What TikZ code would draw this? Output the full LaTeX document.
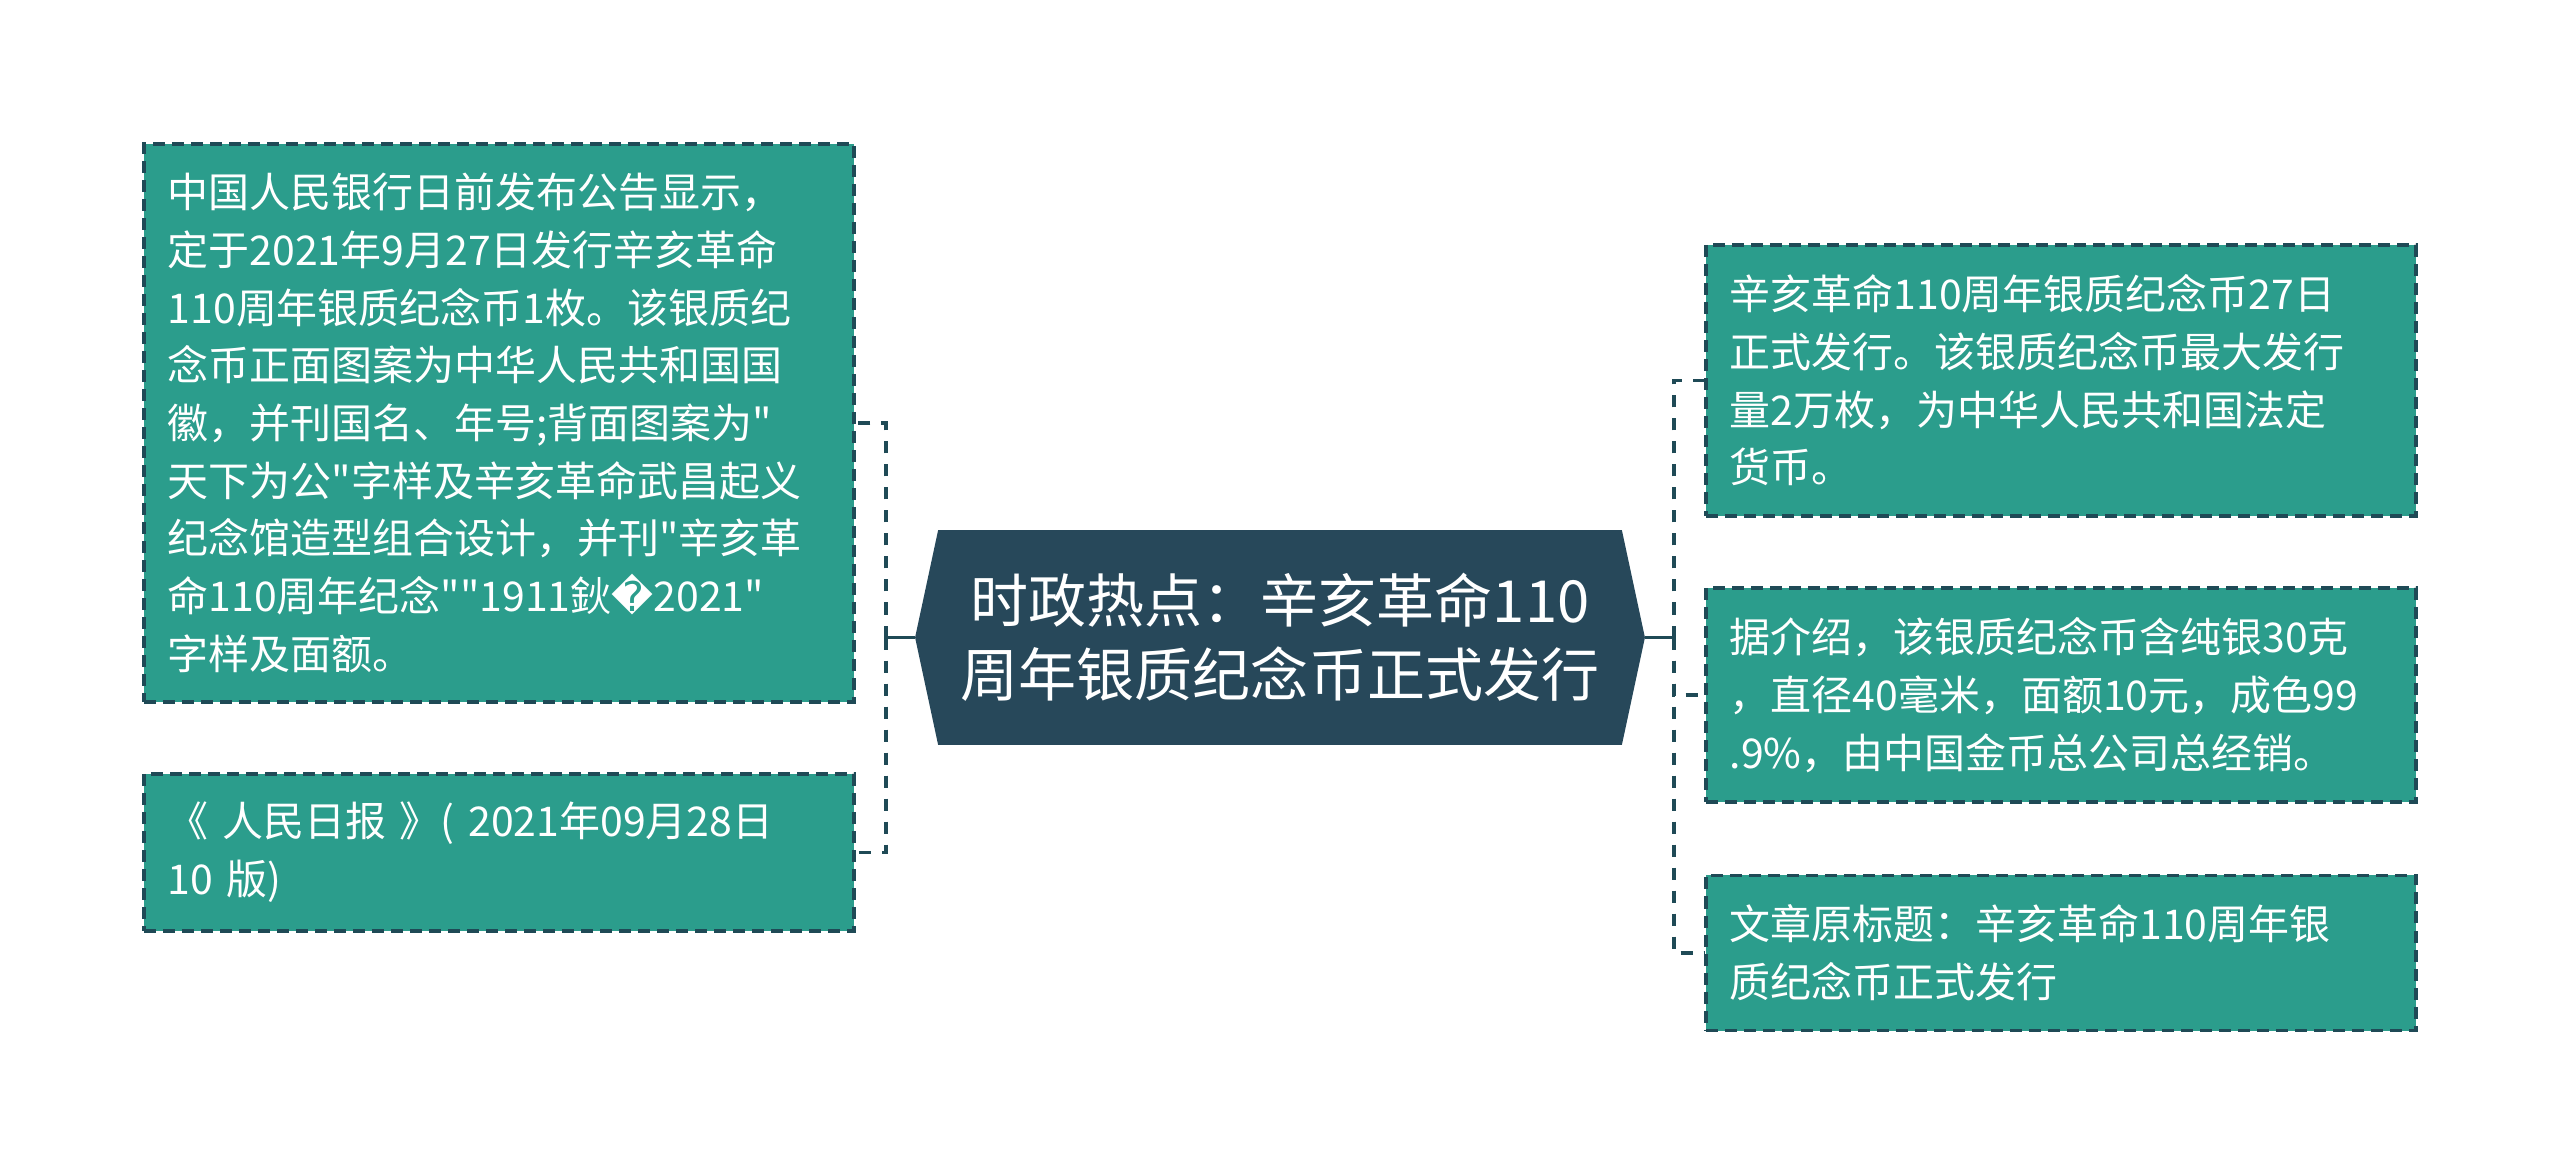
\documentclass[tikz,border=0pt]{standalone}
\usepackage{fontspec}
\setmainfont[Ligatures=TeXOff]{Noto Sans CJK SC}
\newfontfamily\symfont{DejaVu Sans}
\usetikzlibrary{backgrounds}
\definecolor{leaffill}{HTML}{2B9D8C}
\definecolor{edgeline}{HTML}{1F4A56}
\definecolor{rootfill}{HTML}{27485A}
\tikzset{leaf/.style={draw=edgeline, line width=1pt, dash pattern=on 0.12cm off 0.07cm, fill=leaffill, text=white,
    text width=6.62cm, inner xsep=0.24cm, inner ysep=0pt, align=left, minimum height=#1,
    font=\fontsize{11.65pt}{16.4pt}\selectfont},
  rootbox/.style={text=white, align=center, inner sep=0pt, minimum width=6.82cm, minimum height=2.13cm,
    font=\fontsize{16.5pt}{21pt}\selectfont},
  link/.style={draw=edgeline, line width=0.9pt},
  dashlink/.style={link, dash pattern=on 0.12cm off 0.11cm}}

\begin{document}
\begin{tikzpicture}[x=0.01cm, y=-0.01cm]
\useasboundingbox (0,0) rectangle (2560,1175);

\node[rootbox] (root) at (1280,637.5) {时政热点：辛亥革命110\\周年银质纪念币正式发行};

\node[leaf=5.58cm] (l1) at (499,423) {中国人民银行日前发布公告显示，\\定于2021年9月27日发行辛亥革命\\110周年银质纪念币1枚。该银质纪\\念币正面图案为中华人民共和国国\\徽，并刊国名、年号;背面图案为"\\天下为公"字样及辛亥革命武昌起义\\纪念馆造型组合设计，并刊"辛亥革\\命110周年纪念""1911鈥{\symfont �}2021"\\字样及面额。};
\node[leaf=1.57cm] (l2) at (499,852.5) {《 人民日报 》( 2021年09月28日\\10 版)};

\node[leaf=2.71cm] (r1) at (2061,380.5) {辛亥革命110周年银质纪念币27日\\正式发行。该银质纪念币最大发行\\量2万枚，为中华人民共和国法定\\货币。};
\node[leaf=2.14cm] (r2) at (2061,695) {据介绍，该银质纪念币含纯银30克\\，直径40毫米，面额10元，成色99\\.9\%，由中国金币总公司总经销。};
\node[leaf=1.55cm] (r3) at (2061,953) {文章原标题：辛亥革命110周年银\\质纪念币正式发行};

\begin{scope}[on background layer]
\fill[white] (0,0) rectangle (2560,1175);
\fill[rootfill] (root.north west) -- (root.north east) -- ([xshift=0.23cm]root.east) -- (root.south east)
  -- (root.south west) -- ([xshift=-0.23cm]root.west) -- cycle;
\end{scope}

% elbow connectors
\coordinate (lj) at (886,637.5);
\coordinate (rj) at (1674,637.5);
\draw[link] ([xshift=-0.23cm]root.west) -- (lj);
\draw[link] ([xshift=0.23cm]root.east) -- (rj);
\foreach \n in {l1,l2}
  \draw[dashlink] (lj) |- (\n.east);
\foreach \n in {r1,r2,r3}
  \draw[dashlink] (rj) |- (\n.west);
\end{tikzpicture}
\end{document}
